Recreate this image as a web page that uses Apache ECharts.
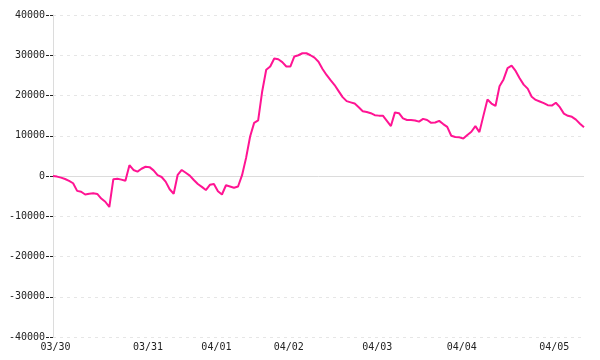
<!DOCTYPE html>
<html><head><meta charset="utf-8">
<script src="https://cdn.jsdelivr.net/npm/echarts@6/dist/echarts.min.js"></script>
<style>html,body{margin:0;padding:0;background:#fff}#c{width:600px;height:360px}</style>
</head><body><div id="c"></div>
<script>
const tickLabels = ['03/30','03/31','04/01','04/02','04/03','04/04','04/05'];
const tickIndex = [0, 23, 40, 58, 80, 101, 124];
const yTicks = [-40000, -30000, -20000, -10000, 0, 10000, 20000, 30000, 40000];
const values = [
  0, -150, -400, -750, -1200, -1800, -3700, -3900, -4600, -4400,
  -4300, -4450, -5600, -6400, -7700, -800, -700, -900, -1200, 2700,
  1500, 1100, 1800, 2300, 2200, 1400, 200, -250, -1400, -3300,
  -4400, 300, 1500, 800, 100, -1000, -2000, -2700, -3500, -2200,
  -2000, -3800, -4600, -2300, -2600, -2900, -2600, 200, 4500, 9800,
  13200, 13800, 21000, 26400, 27200, 29200, 29000, 28300, 27200, 27200,
  29700, 30000, 30500, 30500, 30000, 29400, 28400, 26600, 25100, 23800,
  22600, 21100, 19600, 18600, 18300, 18000, 17100, 16100, 15900, 15600,
  15100, 15000, 15000, 13700, 12400, 15800, 15600, 14300, 13900, 13900,
  13800, 13500, 14200, 13900, 13200, 13300, 13700, 12900, 12200, 10000,
  9700, 9600, 9300, 10200, 11000, 12400, 10900, 15000, 19000, 18000,
  17400, 22300, 24000, 26800, 27400, 26100, 24300, 22700, 21700, 19700,
  18900, 18500, 18100, 17600, 17500, 18200, 17100, 15500, 14950, 14700,
  14000, 13000, 12100
];
const categories = values.map((_, i) => {
  const k = tickIndex.indexOf(i);
  return k >= 0 ? tickLabels[k] : String(i);
});
const font = '"DejaVu Sans Mono", monospace';
const chart = echarts.init(document.getElementById('c'), null, {renderer: 'canvas'});
chart.setOption({
  animation: false,
  backgroundColor: '#fff',
  grid: {left: 53, right: 16, top: 15, bottom: 23},
  xAxis: {
    type: 'category',
    data: categories,
    boundaryGap: false,
    axisLine: {show: false, onZero: false},
    axisTick: {show: false},
    splitLine: {show: false},
    axisLabel: {
      interval: (i) => tickIndex.includes(i),
      color: '#222', fontSize: 10, fontFamily: font, margin: 5,
      padding: [0, 0, 0, 5]
    }
  },
  yAxis: {
    type: 'value',
    min: yTicks[0], max: yTicks[yTicks.length - 1], interval: 10000,
    axisLine: {show: true, lineStyle: {color: '#dcdcdc', width: 1}},
    axisTick: {show: true, length: 7, lineStyle: {color: '#222', type: [3, 1]}},
    axisLabel: {color: '#222', fontSize: 10, fontFamily: font, margin: 8,
      formatter: (v) => String(v)},
    splitLine: {show: true, lineStyle: {color: '#e6e6e6', type: [3, 4], width: 1}}
  },
  series: [{
    type: 'line',
    data: values,
    symbol: 'none',
    lineStyle: {color: '#ff1493', width: 2},
    itemStyle: {color: '#ff1493'},
    z: 3,
    markLine: {
      silent: true, symbol: 'none', label: {show: false},
      lineStyle: {color: '#dcdcdc', type: 'solid', width: 1},
      data: [{yAxis: 0}],
      z: 1
    }
  }]
});
</script></body></html>
